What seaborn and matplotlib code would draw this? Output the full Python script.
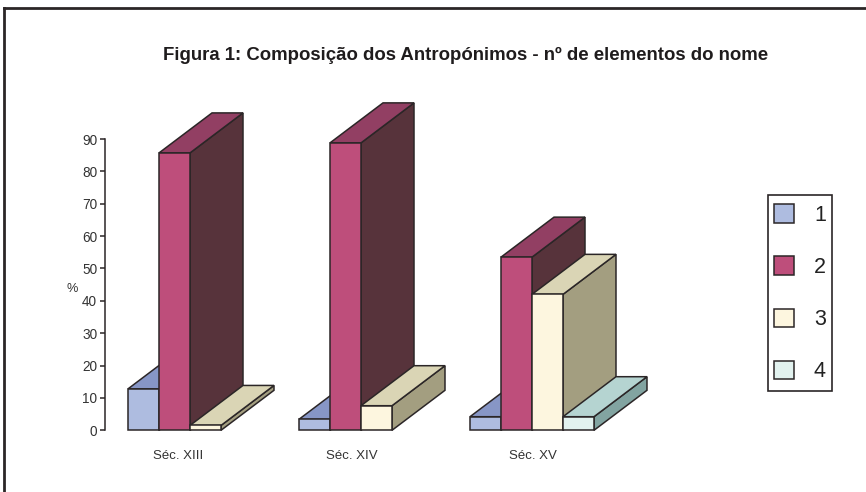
import matplotlib
matplotlib.use('Agg')
import matplotlib.pyplot as plt
import pandas as pd
import seaborn as sns
from matplotlib.lines import Line2D
from matplotlib.patches import Polygon, Rectangle

seculos = ['Séc. XIII', 'Séc. XIV', 'Séc. XV']
elementos = ['1', '2', '3', '4']
sec_xiii = [12.8, 85.7, 1.5]
sec_xiv = [3.4, 88.8, 7.6]
sec_xv = [4.2, 53.5, 42.0, 4.2]
yticks = list(range(0, 100, 10))

# front, top and side colour of each series
frente = ['#aebce0', '#be4e7b', '#fdf6df', '#e2f2ef']
topo = ['#8796c6', '#923f63', '#dad5b5', '#b5d4d1']
lado = ['#6f7ca6', '#57333b', '#a39e80', '#82a4a1']
cor_linha = '#2b2627'

plt.rcParams['font.family'] = ['Liberation Sans', 'DejaVu Sans']

rows = []
for sec, vals in zip(seculos, [sec_xiii, sec_xiv, sec_xv]):
    for el, v in zip(elementos, vals):
        rows.append({'seculo': sec, 'elemento': el, 'valor': v})
df = pd.DataFrame(rows)

W, H = 866, 492
fig = plt.figure(figsize=(W / 100, H / 100), dpi=100)
ax = fig.add_axes([104.5 / W, 1 - 430.3 / H, 513 / W, 291.3 / H])

sns.barplot(data=df, x='seculo', y='valor', hue='elemento', order=seculos,
            hue_order=elementos, palette=frente, width=0.725, gap=0,
            saturation=1, edgecolor=cor_linha, linewidth=1.1, ax=ax)

ax.set_xlim(-0.5, 2.5)
ax.set_ylim(0, 90)

# depth of the fake 3D boxes, converted from pixels to data units
dx = 53 / 171
dy = 40 / (291.3 / 90)

for i, cont in enumerate(ax.containers):
    for bar in cont.patches:
        x0 = bar.get_x()
        x1 = x0 + bar.get_width()
        h = bar.get_height()
        z = 3 + i
        bar.set_zorder(z + 0.2)
        bar.set_clip_on(False)
        ax.add_patch(Polygon([(x1, 0), (x1 + dx, dy), (x1 + dx, h + dy), (x1, h)],
                             facecolor=lado[i], edgecolor=cor_linha, lw=1.1,
                             zorder=z, clip_on=False))
        ax.add_patch(Polygon([(x0, h), (x1, h), (x1 + dx, h + dy), (x0 + dx, h + dy)],
                             facecolor=topo[i], edgecolor=cor_linha, lw=1.1,
                             zorder=z + 0.1, clip_on=False))

for s in ['top', 'right', 'bottom']:
    ax.spines[s].set_visible(False)
ax.spines['left'].set_linewidth(1.1)
ax.spines['left'].set_color(cor_linha)
ax.set_yticks(yticks)
ax.tick_params(axis='y', length=3.3, width=1.1, color=cor_linha, labelsize=9.8,
               labelcolor='#333333', pad=2)
ax.set_ylabel('')
ax.set_xlabel('')
fig.text(72.5 / W, 1 - 288.5 / H, '%', ha='center', va='center', fontsize=9.2, color='#333333')

# the category labels sit a little off centre in the original
ax.set_xticks(range(3))
ax.set_xticklabels([])
ax.tick_params(axis='x', length=0)
for i, (sec, off) in enumerate(zip(seculos, [-12, -9, 1])):
    ax.annotate(sec, (i, 0), xytext=(off * 0.72, -26 * 0.72), textcoords='offset points',
                ha='center', va='center', fontsize=9.5, color='#333333', annotation_clip=False)

handles, labels = ax.get_legend_handles_labels()
ax.legend(handles, labels, loc='upper left', bbox_to_anchor=(773.5 / W, 1 - 204 / H),
          bbox_transform=fig.transFigure, fontsize=15.5, frameon=False, borderaxespad=0,
          borderpad=0, handlelength=0.95, handleheight=0.95, handletextpad=0.93,
          labelspacing=1.42, labelcolor='#222222')

# legend box and the page frame (top and left only)
fig.add_artist(Rectangle((767.7 / W, 1 - 390.7 / H), 64.6 / W, 196 / H, transform=fig.transFigure,
                         fill=False, edgecolor=cor_linha, lw=1.2))
fig.add_artist(Line2D([4.3 / W, 4.3 / W], [0, 1 - 8 / H], transform=fig.transFigure,
                      color='#2b2627', lw=2.0, solid_capstyle='projecting'))
fig.add_artist(Line2D([4.3 / W, 1], [1 - 8 / H, 1 - 8 / H], transform=fig.transFigure,
                      color='#2b2627', lw=2.0, solid_capstyle='projecting'))

fig.text(466 / W, 1 - 55 / H, 'Figura 1: Composição dos Antropónimos - nº de elementos do nome',
         ha='center', va='center', fontsize=13.45, fontweight='bold', color='#1f1c1d')

fig.savefig('out.png', dpi=100)
